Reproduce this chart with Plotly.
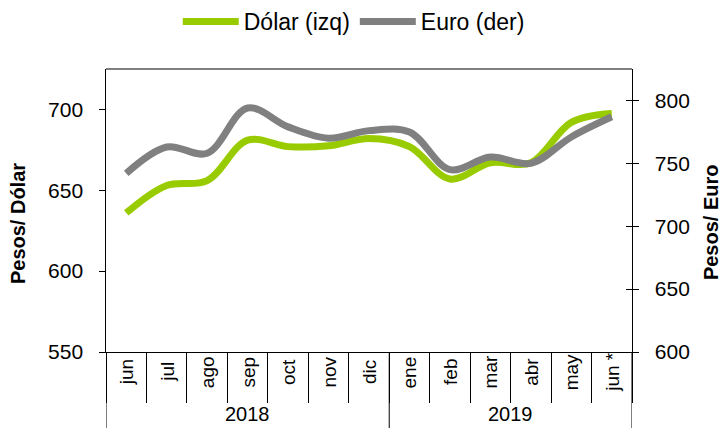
import plotly.graph_objects as go

months = ["jun", "jul", "ago", "sep", "oct", "nov", "dic", "ene", "feb", "mar", "abr", "may", "jun *"]
years = ["2018"] * 7 + ["2019"] * 6
dolar = [636, 653, 656, 681, 677, 677.5, 682, 677, 657, 667, 667, 692, 697.5]
euro = [742, 763, 758, 794, 779, 770, 776, 775, 745, 755, 750, 771, 787]

FONT = "Liberation Sans, Arial, sans-serif"
GREEN = "#99CC00"
GRAY = "#808080"
NB = "\u00a0\u00a0"

fig = go.Figure()
fig.add_trace(go.Scatter(x=months, y=dolar, name="Dólar (izq)", mode="lines",
                         line=dict(color=GREEN, width=7, shape="spline", smoothing=1.0),
                         yaxis="y"))
fig.add_trace(go.Scatter(x=months, y=euro, name="Euro (der)", mode="lines",
                         line=dict(color=GRAY, width=7, shape="spline", smoothing=1.0),
                         yaxis="y2"))

ann = []
for i, m in enumerate(months):
    ann.append(dict(x=i, y=0, xref="x", yref="paper", text=m, showarrow=False,
                    textangle=-90, yanchor="middle", xanchor="center", yshift=-20,
                    font=dict(family=FONT, size=19, color="black")))
uniq_years = []
for y in years:
    if y not in uniq_years:
        uniq_years.append(y)
for yv in uniq_years:
    idx = [i for i, y in enumerate(years) if y == yv]
    ann.append(dict(x=sum(idx) / len(idx), y=0, xref="x", yref="paper", text=yv,
                    showarrow=False, yanchor="middle", yshift=-62,
                    font=dict(family=FONT, size=20, color="black")))
ann.append(dict(x=0, y=0.452, xref="paper", yref="paper", text="<b>Pesos/ Dólar</b>",
                showarrow=False, textangle=-90, xshift=-88, xanchor="center", yanchor="middle",
                font=dict(family=FONT, size=20, color="black")))
ann.append(dict(x=1, y=0.459, xref="paper", yref="paper", text="<b>Pesos/ Euro</b>",
                showarrow=False, textangle=-90, xshift=79, xanchor="center", yanchor="middle",
                font=dict(family=FONT, size=20, color="black")))

bounds = [-0.5, 12.5]
for i in range(1, len(years)):
    if years[i] != years[i - 1]:
        bounds.append(i - 0.5)
shapes = [dict(type="line", xref="x", yref="paper", x0=b, x1=b, y0=0, y1=-76 / 283,
               line=dict(color="black", width=1)) for b in bounds]
shapes.append(dict(type="line", xref="paper", yref="paper", x0=0, x1=1, y0=1, y1=1,
                   line=dict(color=GRAY, width=2)))

fig.update_layout(
    width=722, height=428,
    margin=dict(l=106, r=90, t=69, b=76),
    paper_bgcolor="white", plot_bgcolor="white",
    font=dict(family=FONT, size=20, color="black"),
    showlegend=True,
    legend=dict(orientation="h", x=0.471, xanchor="center", y=1, yref="container",
                yanchor="top", font=dict(family=FONT, size=23, color="black"),
                itemwidth=56, bgcolor="rgba(0,0,0,0)"),
    xaxis=dict(type="category", range=[-0.5, 12.5], showgrid=False, showticklabels=False,
               ticks="outside", tickson="boundaries", ticklen=50, tickcolor="black",
               showline=True, linecolor="black", linewidth=1, zeroline=False),
    yaxis=dict(range=[550, 725], dtick=50, tick0=550, showgrid=False, ticks="outside",
               ticklen=6, tickcolor="black", showline=True, linecolor="black",
               linewidth=1, zeroline=False, ticksuffix=NB,
               tickfont=dict(family=FONT, size=21, color="black")),
    yaxis2=dict(range=[600, 825], dtick=50, tick0=600, overlaying="y", side="right",
                showgrid=False, ticks="outside", ticklen=6, tickcolor="black",
                showline=True, linecolor="black", linewidth=1, zeroline=False,
                tickprefix=NB, tickfont=dict(family=FONT, size=21, color="black")),
    yaxis3=dict(range=[600, 825], dtick=50, tick0=600, overlaying="y", side="right",
                showgrid=False, ticks="inside", ticklen=6, tickcolor="black",
                showticklabels=False, showline=False, zeroline=False),
    annotations=ann,
    shapes=shapes,
)
fig.add_trace(go.Scatter(x=[months[0]], y=[None], yaxis="y3", showlegend=False,
                         hoverinfo="skip"))

fig.write_html("out.html")
